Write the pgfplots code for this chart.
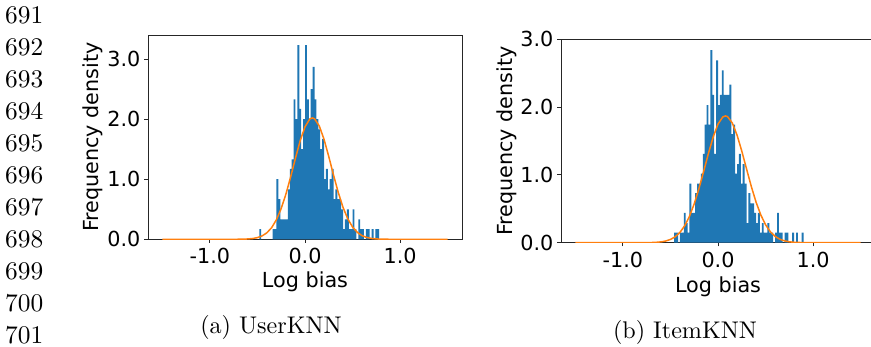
\documentclass[border=0pt]{standalone}
\usepackage{pgfplots}
\pgfplotsset{compat=1.18}
\usepackage{pgfplotstable}
\usepackage{fontspec}
\usepackage{graphicx}
\newfontfamily\dejavu{DejaVu Sans}
\definecolor{mplblue}{HTML}{1F77B4}
\definecolor{mplorange}{HTML}{FF7F0E}

\pgfplotstableread{
x h
-0.48 0.17
-0.46 0
-0.44 0
-0.42 0
-0.40 0
-0.38 0
-0.36 0
-0.34 0.17
-0.32 0.17
-0.30 1.00
-0.28 0.67
-0.26 0.33
-0.24 0.33
-0.22 0.33
-0.20 0.33
-0.18 0.83
-0.16 1.17
-0.14 1.33
-0.12 2.33
-0.10 2.00
-0.08 3.23
-0.06 2.17
-0.04 1.50
-0.02 2.00
0.00 3.23
0.02 2.33
0.04 2.00
0.06 2.50
0.08 2.87
0.10 2.33
0.12 2.00
0.14 1.83
0.16 1.50
0.18 1.67
0.20 1.00
0.22 1.17
0.24 0.83
0.26 1.00
0.28 1.17
0.30 0.67
0.32 0.83
0.34 0.67
0.36 0.67
0.38 0.50
0.40 0.17
0.42 0.33
0.44 0.50
0.46 0.17
0.48 0.17
0.50 0.50
0.52 0.17
0.54 0
0.56 0.33
0.58 0.17
0.60 0.17
0.62 0
0.64 0.17
0.66 0.17
0.68 0
0.70 0.17
0.72 0
0.74 0.17
0.76 0.17
0.78 0
}\userhist

\pgfplotstableread{
x h
-0.46 0.15
-0.44 0.15
-0.42 0
-0.40 0.15
-0.38 0.15
-0.36 0.44
-0.34 0.29
-0.32 0.15
-0.30 0.87
-0.28 0.44
-0.26 0.44
-0.24 0.73
-0.22 0.87
-0.20 0.87
-0.18 1.02
-0.16 1.31
-0.14 1.74
-0.12 2.03
-0.10 1.74
-0.08 2.84
-0.06 2.18
-0.04 1.31
-0.02 2.69
0.00 2.03
0.02 2.18
0.04 2.54
0.06 2.18
0.08 2.18
0.10 2.18
0.12 2.33
0.14 1.60
0.16 1.74
0.18 1.02
0.20 1.16
0.22 1.31
0.24 0.87
0.26 1.16
0.28 0.87
0.30 0.29
0.32 0.73
0.34 0.58
0.36 0.58
0.38 0.44
0.40 0.29
0.42 0.44
0.44 0.15
0.46 0.29
0.48 0.15
0.50 0.15
0.52 0.29
0.54 0.15
0.56 0.15
0.58 0
0.60 0.15
0.62 0.44
0.64 0.15
0.66 0.15
0.68 0
0.70 0.15
0.72 0.15
0.74 0
0.76 0
0.78 0.15
0.80 0
0.82 0.15
0.84 0
0.86 0
0.88 0.15
0.90 0
}\itemhist

\pgfplotsset{
  histaxis/.style={
    scale only axis, width=314bp,
    xmin=-1.65, xmax=1.65, ymin=0,
    xtick={-1,0,1}, xticklabels={-1.0,0.0,1.0},
    ytick={0,1,2,3}, yticklabels={0.0,1.0,2.0,3.0},
    xtick pos=left, ytick pos=left,
    tick align=outside, major tick length=3.6bp,
    axis line style={line width=0.9bp, black!85},
    tick style={line width=0.9bp, black!85},
    tick label style={font=\fontsize{20.8}{24}\dejavu},
    label style={font=\fontsize{20.8}{24}\dejavu},
    xticklabel style={inner sep=0pt, yshift=-5.4bp},
    yticklabel style={inner sep=0pt, xshift=-3.8bp},
    xlabel={Log bias}, ylabel={Frequency density},
  }
}

\begin{document}
\begin{tikzpicture}
\useasboundingbox (0,0) rectangle (871bp,347bp);

% line numbers
\foreach \n [count=\k from 0] in {691,692,693,694,695,696,697,698,699,700,701}{
  \node[anchor=base west, inner sep=0pt] at (5bp, {323bp-31.9bp*\k})
    {\scalebox{2.55}{\n}};
}

% captions
\node[anchor=base, inner sep=0pt] at (271bp, 13.7bp) {\scalebox{2.42}{(a) UserKNN}};
\node[anchor=base, inner sep=0pt] at (685bp, 8.7bp) {\scalebox{2.42}{(b) ItemKNN}};

\begin{axis}[histaxis, height=204.3bp, ymax=3.4,
  at={(148bp,107.7bp)}, anchor=south west,
  xlabel style={at={(axis description cs:0.5,0)}, anchor=north, inner sep=0pt, yshift=-31.8bp},
  ylabel style={at={(axis description cs:-0.175,0.5)}, anchor=center, inner sep=0pt},
]
\addplot[ybar interval, fill=mplblue, draw=none] table[x=x, y=h] {\userhist};
\addplot[mplorange, line width=1.5bp] coordinates {
(-1.5,0) (-0.8,0) (-0.7,0.0009) (-0.65,0.0024) (-0.6,0.0057) (-0.55,0.013) (-0.5,0.028)
(-0.45,0.057) (-0.4,0.109) (-0.35,0.195) (-0.3,0.327) (-0.25,0.513) (-0.2,0.755)
(-0.15,1.043) (-0.1,1.352) (-0.05,1.643) (0,1.872) (0.05,2.001) (0.077,2.02) (0.1,2.006)
(0.15,1.887) (0.2,1.664) (0.25,1.376) (0.3,1.068) (0.35,0.777) (0.4,0.530) (0.45,0.339)
(0.5,0.204) (0.55,0.115) (0.6,0.0606) (0.65,0.030) (0.7,0.0139) (0.75,0.0061)
(0.8,0.0025) (0.9,0.0003) (1.0,0) (1.5,0)
};
\end{axis}

\begin{axis}[histaxis, height=203.4bp, ymax=3.0,
  at={(561bp,104.3bp)}, anchor=south west,
  xlabel style={at={(axis description cs:0.5,0)}, anchor=north, inner sep=0pt, yshift=-33.4bp},
  ylabel style={at={(axis description cs:-0.172,0.5)}, anchor=center, inner sep=0pt},
]
\addplot[ybar interval, fill=mplblue, draw=none] table[x=x, y=h] {\itemhist};
\addplot[mplorange, line width=1.5bp] coordinates {
(-1.5,0) (-0.8,0) (-0.7,0.0024) (-0.65,0.0055) (-0.6,0.012) (-0.55,0.0245) (-0.5,0.0475)
(-0.45,0.087) (-0.4,0.152) (-0.35,0.250) (-0.3,0.389) (-0.25,0.573) (-0.2,0.800)
(-0.15,1.056) (-0.1,1.320) (-0.05,1.562) (0,1.749) (0.05,1.854) (0.078,1.87) (0.1,1.860)
(0.15,1.766) (0.2,1.588) (0.25,1.351) (0.3,1.088) (0.35,0.829) (0.4,0.598) (0.45,0.409)
(0.5,0.264) (0.55,0.162) (0.6,0.0937) (0.65,0.0513) (0.7,0.0266) (0.75,0.013)
(0.8,0.0061) (0.9,0.0011) (1.0,0.0001) (1.5,0)
};
\end{axis}
\end{tikzpicture}
\end{document}
